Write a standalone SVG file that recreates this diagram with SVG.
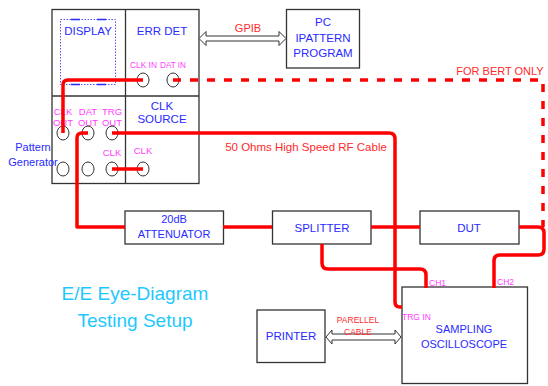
<svg xmlns="http://www.w3.org/2000/svg" width="548" height="386" viewBox="0 0 548 386">
<style>
text{font-family:"Liberation Sans",Arial,sans-serif;text-anchor:middle}
.box{fill:#fff;stroke:#333;stroke-width:1.3}
.bl{fill:#2a2aff;font-size:11.5px}
.mg{fill:#ff3cff;font-size:9.5px}
.rd{fill:#ff2a2a;font-size:11px}
.jack{fill:none;stroke:#333;stroke-width:1}
.wire{fill:none;stroke:#ff0000;stroke-width:3.5;stroke-linejoin:round}
.dash{fill:none;stroke:#ff0000;stroke-width:3.5;stroke-dasharray:8 9}
.harrow{fill:#fff;stroke:#333;stroke-width:1}
</style>
<rect width="548" height="386" fill="#fff"/>

<g id="bert-panel">
<rect class="box" x="52" y="9.5" width="147" height="174"/>
<line x1="125.5" y1="9.5" x2="125.5" y2="183.5" stroke="#333" stroke-width="1.3"/>
<line x1="52" y1="96" x2="199" y2="96" stroke="#333" stroke-width="1.3"/>
</g>

<g id="display">
<rect x="60.5" y="19.5" width="55" height="65" fill="none" stroke="#2a2aff" stroke-width="0.8" stroke-dasharray="1.5 1.5"/>
<path d="M71,19.5H80M97,19.5H106M71,84.5H80M97,84.5H106" stroke="#2a2aff" stroke-width="1.5"/>
<text class="bl" x="88" y="35">DISPLAY</text>
</g>

<g id="err-det">
<text class="bl" x="162" y="35">ERR DET</text>
<text class="mg" x="143.5" y="68" textLength="27" lengthAdjust="spacingAndGlyphs">CLK IN</text>
<text class="mg" x="173" y="68" textLength="26" lengthAdjust="spacingAndGlyphs">DAT IN</text>
<ellipse class="jack" cx="143" cy="80" rx="6" ry="7"/>
<ellipse class="jack" cx="173" cy="80" rx="6" ry="7"/>
</g>

<g id="clk-source">
<text class="bl" x="162" y="110">CLK</text>
<text class="bl" x="162" y="123">SOURCE</text>
<text class="mg" x="143" y="154">CLK</text>
<ellipse class="jack" cx="143" cy="169" rx="6" ry="7"/>
</g>

<g id="pattern-generator">
<text class="mg" x="63" y="115">CLK</text>
<text class="mg" x="63" y="126">OUT</text>
<text class="mg" x="88" y="115">DAT</text>
<text class="mg" x="88" y="126">OUT</text>
<text class="mg" x="112" y="115">TRG</text>
<text class="mg" x="112" y="126">OUT</text>
<text class="mg" x="112" y="156">CLK</text>
<ellipse class="jack" cx="63" cy="133" rx="6" ry="7"/>
<ellipse class="jack" cx="88" cy="133" rx="6" ry="7"/>
<ellipse class="jack" cx="112" cy="133" rx="6" ry="7"/>
<ellipse class="jack" cx="63" cy="169" rx="6" ry="7"/>
<ellipse class="jack" cx="88" cy="169" rx="6" ry="7"/>
<ellipse class="jack" cx="112" cy="169" rx="6" ry="7"/>
<text class="bl" x="33" y="151" style="font-size:11px">Pattern</text>
<text class="bl" x="33" y="166" style="font-size:11px">Generator</text>
</g>

<g id="pc">
<rect class="box" x="286.5" y="9.5" width="73" height="58.5"/>
<text class="bl" x="323" y="26">PC</text>
<text class="bl" x="323" y="42">IPATTERN</text>
<text class="bl" x="323" y="57">PROGRAM</text>
</g>

<g id="attenuator">
<rect class="box" x="125" y="211" width="98.5" height="33"/>
<text class="bl" x="174" y="223" style="font-size:11px">20dB</text>
<text class="bl" x="174" y="238" style="font-size:11px">ATTENUATOR</text>
</g>

<g id="splitter">
<rect class="box" x="272.5" y="211" width="98.5" height="33"/>
<text class="bl" x="322" y="232">SPLITTER</text>
</g>

<g id="dut">
<rect class="box" x="420" y="211" width="99" height="33"/>
<text class="bl" x="469" y="232">DUT</text>
</g>

<g id="scope">
<rect class="box" x="402" y="287" width="125.5" height="96.5"/>
<text class="bl" x="464" y="333" style="font-size:11px">SAMPLING</text>
<text class="bl" x="464" y="348" style="font-size:11px">OSCILLOSCOPE</text>
<text class="mg" x="429" y="286" style="text-anchor:start;font-size:8.5px">CH1</text>
<text class="mg" x="497" y="285" style="text-anchor:start;font-size:8.5px">CH2</text>
<text class="mg" x="402" y="320" style="text-anchor:start;font-size:8.5px">TRG IN</text>
</g>

<g id="printer">
<rect class="box" x="257" y="310" width="68" height="52.5"/>
<text class="bl" x="291" y="340">PRINTER</text>
</g>

<g id="title">
<text x="135" y="300" style="fill:#1ec8ff;font-size:19px">E/E Eye-Diagram</text>
<text x="135" y="327" style="fill:#1ec8ff;font-size:19px">Testing Setup</text>
</g>

<g id="connectors">
<polygon class="harrow" points="199,38.5 206,31.5 206,36 279,36 279,31.5 286,38.5 279,45.5 279,41 206,41 206,45.5"/>
<text class="rd" x="248" y="32">GPIB</text>
<polygon class="harrow" points="326,337 332,330 332,334 395,334 395,330 401,337 395,344 395,340 332,340 332,344"/>
<text class="rd" x="358" y="323" style="font-size:8.5px">PARELLEL</text>
<text class="rd" x="358" y="335" style="font-size:8.5px">CABLE</text>

<path class="dash" d="M173,80H543V227"/>
<text class="rd" x="500" y="75">FOR BERT ONLY</text>

<path class="wire" d="M143,80H68Q63,80 63,85V133"/>
<path class="wire" d="M88,133H82Q77,133 77,138V227H125"/>
<path class="wire" d="M112,133H389Q395,133 395,139V302Q395,307 400,307H402"/>
<text class="rd" x="306" y="151" style="font-size:11.5px">50 Ohms High Speed RF Cable</text>
<path class="wire" d="M112,169H143"/>
<path class="wire" d="M223,227H272"/>
<path class="wire" d="M371,227H420"/>
<path class="wire" d="M519,227H538Q544,227 544,233V249Q544,255 538,255H500Q494,255 494,261V288"/>
<path class="wire" d="M322,244V263Q322,269 328,269H420Q426,269 426,275V288"/>
</g>
</svg>
